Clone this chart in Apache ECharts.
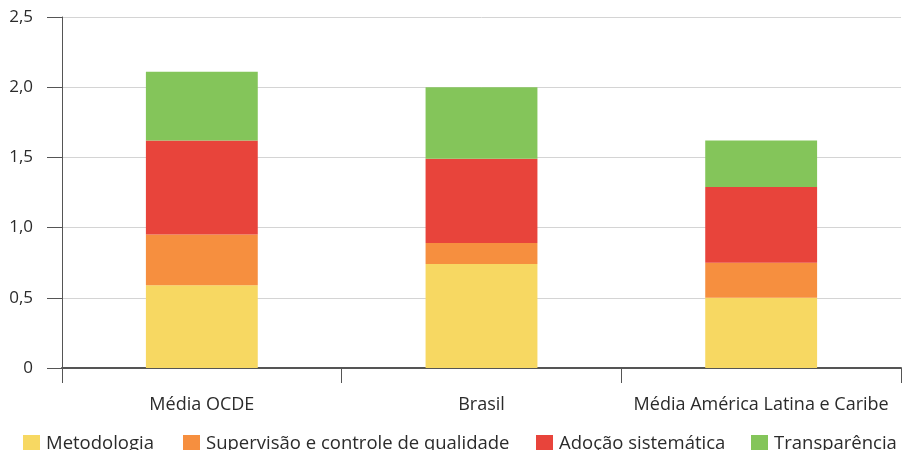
<!DOCTYPE html>
<html>
<head>
<meta charset="utf-8">
<script src="https://cdn.jsdelivr.net/npm/echarts@6/dist/echarts.min.js"></script>
<style>
  html, body { margin: 0; padding: 0; background: #fff; }
  #chart { width: 902px; height: 450px; }
</style>
</head>
<body>
<div id="chart"></div>
<script>
// Categories and stacked component scores
const categories = ['Média OCDE', 'Brasil', 'Média América Latina e Caribe'];
const metodologia = [0.59, 0.74, 0.50];
const supervisao = [0.36, 0.15, 0.25];
const adocao = [0.67, 0.60, 0.54];
const transparencia = [0.49, 0.51, 0.33];
const yTicks = [0, 0.5, 1.0, 1.5, 2.0, 2.5];

const seriesNames = ['Metodologia', 'Supervisão e controle de qualidade', 'Adoção sistemática', 'Transparência'];
const seriesData = [metodologia, supervisao, adocao, transparencia];
const colors = ['#F7D862', '#F68F3F', '#E8443B', '#84C55A'];

const FONT = 'Open Sans';
const TEXT = '#2b2b2b';

// One legend per entry so each item sits at its own spot along the bottom row
const legendLeft = [23, 183, 536, 751];
const legends = seriesNames.map((name, i) => ({
  data: [name],
  left: legendLeft[i],
  top: 434,
  itemWidth: 17,
  itemHeight: 17,
  itemGap: 0,
  icon: 'rect',
  textStyle: { fontFamily: FONT, fontSize: 18.5, color: TEXT, padding: [0, 0, 0, 1] },
  padding: 0
}));

const option = {
  animation: false,
  color: colors,
  legend: legends,
  grid: { left: 62, right: 1, top: 17, bottom: 82, containLabel: false },
  xAxis: {
    type: 'category',
    data: categories,
    axisLine: { lineStyle: { color: '#555', width: 2 } },
    axisTick: { show: true, length: 15, lineStyle: { color: '#555', width: 1 } },
    axisLabel: { interval: 0, fontFamily: FONT, fontSize: 18, color: TEXT, margin: 28 }
  },
  yAxis: {
    type: 'value',
    min: yTicks[0],
    max: yTicks[yTicks.length - 1],
    interval: 0.5,
    axisLine: { show: true, lineStyle: { color: '#555', width: 1 } },
    axisTick: { show: true, length: 15, lineStyle: { color: '#555', width: 1 } },
    splitLine: { lineStyle: { color: '#d4d4d4', width: 1 } },
    axisLabel: {
      fontFamily: FONT, fontSize: 17, color: TEXT, margin: 29,
      formatter: v => v === 0 ? '0' : v.toFixed(1).replace('.', ',')
    }
  },
  series: seriesNames.map((name, i) => ({
    name: name,
    type: 'bar',
    stack: 'total',
    barWidth: '40%',
    data: seriesData[i],
    itemStyle: { color: colors[i] }
  }))
};

echarts.init(document.getElementById('chart'), null, { renderer: 'canvas' }).setOption(option);
</script>
</body>
</html>
